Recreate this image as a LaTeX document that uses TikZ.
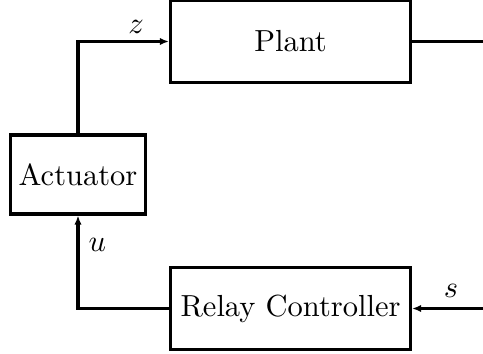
\documentclass[tikz,border=0pt]{standalone}
\usetikzlibrary{arrows.meta,positioning}
\begin{document}
\begin{tikzpicture}[x=0.328pt, y=-0.328pt,
    >={Latex[length=3pt, width=2.4pt]},
    block/.style={draw, line width=1pt, inner sep=0pt},
    sig/.style={line width=1pt},
  ]
  \useasboundingbox (0,0) rectangle (483,353);

  % blocks
  \node[block, minimum width=78.7pt, minimum height=26.6pt] (plant) at (290.5,41.5) {Plant};
  \node[block, minimum width=44pt, minimum height=25.9pt] (act) at (78,174.5) {Actuator};
  \node[block, minimum width=78.7pt, minimum height=27.2pt] (relay) at (290.5,308.5) {Relay Controller};

  % free ends
  \coordinate (yout) at (483,41.5);
  \coordinate (sin) at (483,308.5);

  % signals
  \draw[sig, ->] (act.north) |- (plant.west) node[pos=0.82, above, inner sep=2pt] {$z$};
  \draw[sig] (plant.east) -- (yout);
  \draw[sig, ->] (relay.west) -| (act.south) node[pos=0.84, right, inner sep=3pt] {$u$};
  \draw[sig, ->] (sin) -- (relay.east) node[pos=0.45, above, inner sep=3pt] {$s$};
\end{tikzpicture}
\end{document}
